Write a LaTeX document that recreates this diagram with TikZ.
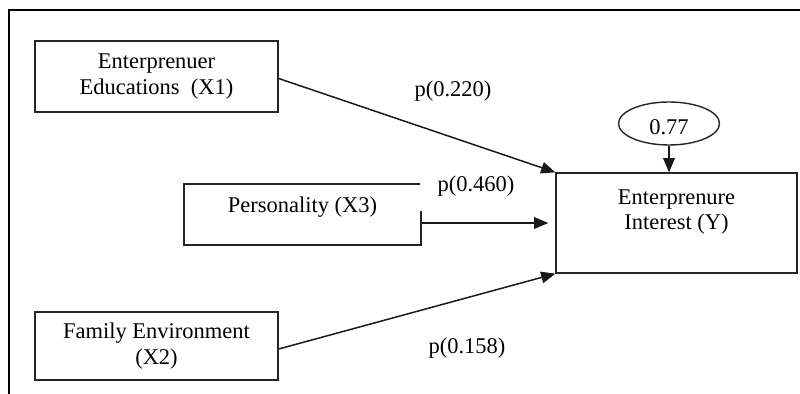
\documentclass[tikz,border=0pt]{standalone}
\usepackage{fontspec}
\setmainfont{Liberation Serif}
\usetikzlibrary{arrows,shapes.geometric}

\tikzset{
  varbox/.style={draw=black!85, line width=0.8pt, align=center, inner sep=0pt},
  path/.style={black!90, line width=0.85pt, -triangle 45},
  coef/.style={inner sep=1pt}
}

\begin{document}
\begin{tikzpicture}[x=0.02cm, y=-0.02cm, font=\fontsize{12.8}{14.4}\selectfont]

    \useasboundingbox (0, 0) rectangle (800, 394);
    \draw[line width=1.3pt] (9, 420) -- (9, 10) -- (820, 10);

    % Education
    \node[varbox, minimum width=4.86cm, minimum height=1.42cm] (x1) at (156.5, 76.5)
      {Enterprenuer\\Educations\ \ (X1)};

    % Personality
    \node[varbox, minimum width=4.74cm, minimum height=1.22cm, text depth=11pt] (x3) at (302.5, 214.5)
      {Personality (X3)};

    % Family
    \node[varbox, minimum width=4.86cm, minimum height=1.36cm] (x2) at (156.5, 346)
      {Family Environment\\(X2)};

    % Interest
    \node[varbox, minimum width=4.82cm, minimum height=2cm, text depth=15pt] (y) at (676.5, 223)
      {Enterprenure\\Interest (Y)};

    % error term
    \node[draw=black!85, line width=0.8pt, ellipse, minimum width=2.02cm, minimum height=0.86cm, inner sep=0pt] (err) at (669, 123.5) {};
    \node (errval) at (669, 127) {0.77};
    \draw[path] (err.south) -- (err.south |- y.north);

    % paths
    \draw[path] (x1.east) ++(0, 2) -- (y.north west);
    \draw[path, shorten >=4pt] (x3.east |- y.west) -- (y.west);
    \draw[path] (x2.east) ++(0, 3) -- (y.south west);

    % coefficients
    \node[coef] (p1) at (453, 91) {p(0.220)};
    \node[coef, fill=white, minimum width=2.2cm, minimum height=0.86cm, anchor=south west] (p3) at (419.8, 211) {};
    \node[coef] (p3t) at (476, 186) {p(0.460)};
    \node[coef] (p2) at (467, 348) {p(0.158)};

\end{tikzpicture}
\end{document}
